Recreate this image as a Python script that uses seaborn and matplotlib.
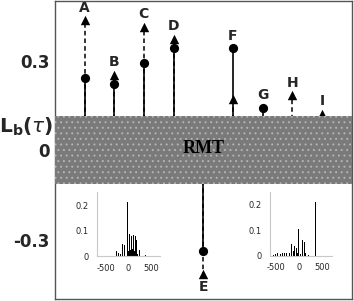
import numpy as np
import pandas as pd
import seaborn as sns
import matplotlib
matplotlib.use("Agg")
import matplotlib.pyplot as plt

sns.set_style("white")
plt.rcParams["font.family"] = ["DejaVu Sans"]
plt.rcParams["hatch.linewidth"] = 0.7

# ---- data ----
labels = ["A", "B", "C", "D", "E", "F", "G", "H", "I"]
circle_vals = [0.241, 0.221, 0.291, 0.341, -0.339, 0.341, 0.141, np.nan, np.nan]
triangle_vals = [0.435, 0.253, 0.413, 0.373, -0.417, 0.172, np.nan, 0.184, 0.121]
rmt_band = 0.113
yticks = [-0.3, 0, 0.3]
ytick_labels = ["-0.3", "0", "0.3"]

# inset histograms
left_x = [-410, -300, -266, -230, -170, -133, -95, -81, -55, -22, 5, 15, 30, 45, 67, 85, 104, 125,
          148, 178, 200, 237, 300, 370]
left_h = [0.008, 0.004, 0.022, 0.015, 0.009, 0.05, 0.01, 0.045, 0.015, 0.213, 0.02, 0.03, 0.089,
          0.025, 0.08, 0.03, 0.085, 0.02, 0.08, 0.063, 0.01, 0.025, 0.003, 0.004]
right_x = [-540, -500, -460, -430, -400, -350, -310, -280, -200, -165, -130, -93, -57, -30, -7, 30,
           71, 107, 143, 200, 350, 528]
right_h = [0.004, 0.006, 0.012, 0.031, 0.008, 0.012, 0.01, 0.012, 0.01, 0.047, 0.02, 0.037, 0.03,
           0.01, 0.104, 0.006, 0.06, 0.055, 0.01, 0.004, 0.21, 0.053]

pos = np.arange(1, len(labels) + 1)
df = pd.DataFrame({"label": labels, "x": pos, "circle": circle_vals, "triangle": triangle_vals})

fig = plt.figure(figsize=(3.54, 3.01), dpi=100)
ax = fig.add_axes([0.155, 0.006, 0.838, 0.991])

# stems: dashed to triangle, solid to circle
for _, r in df.iterrows():
    if not np.isnan(r["triangle"]):
        ax.plot([r["x"], r["x"]], [0, r["triangle"]], color="black", lw=1.1,
                linestyle=(0, (3, 2)), zorder=2)
    if not np.isnan(r["circle"]):
        ax.plot([r["x"], r["x"]], [0, r["circle"]], color="black", lw=1.2,
                linestyle="-", zorder=3)

sns.scatterplot(data=df, x="x", y="circle", marker="o", s=44, color="black",
                edgecolor="black", linewidth=0, ax=ax, zorder=4, legend=False)
sns.scatterplot(data=df, x="x", y="triangle", marker="^", s=46, color="black",
                edgecolor="black", linewidth=0, ax=ax, zorder=4, legend=False)

# RMT band
ax.axhspan(-rmt_band, rmt_band, facecolor="#7a7a7a", edgecolor="#b4b4b4", hatch="...",
           lw=0, zorder=5)
ax.text(5, 0.005, "RMT", ha="center", va="center", fontsize=13, fontweight="bold",
        family="Liberation Serif", color="black", zorder=6)

# letter labels
for _, r in df.iterrows():
    vals = [v for v in (r["circle"], r["triangle"]) if not np.isnan(v)]
    ext = max(vals, key=abs)
    off = 9 if ext > 0 else -9
    ax.annotate(r["label"], (r["x"], ext), xytext=(0, off), textcoords="offset points",
                ha="center", va="center", fontsize=10, fontweight="bold")

ax.set_xlim(0, 10)
ax.set_ylim(-0.5, 0.5)
ax.set_xticks([])
ax.set_yticks(yticks)
ax.set_yticklabels(ytick_labels, fontsize=12, fontweight="bold")
ax.tick_params(axis="y", direction="in", length=6, width=0.8, color="#555555", pad=4)
ax.set_xlabel("")
ax.set_ylabel("")
for s in ax.spines.values():
    s.set_color("#555555")
    s.set_linewidth(1.0)
fig.text(0.073, 0.578, r"$\mathbf{L_b}\mathbf{(}\tau\mathbf{)}$", ha="center", va="center",
         fontsize=14.5)

def inset(rect, xs, hs, xlim):
    a = fig.add_axes(rect)
    a.bar(xs, hs, width=20, color="black", lw=0)
    a.set_xlim(*xlim)
    a.set_ylim(0, 0.25)
    a.set_xticks([-500, -250, 0, 250, 500])
    a.set_xticklabels(["-500", "", "0", "", "500"])
    a.set_yticks([0, 0.05, 0.1, 0.15, 0.2])
    a.set_yticklabels(["0", "", "0.1", "", "0.2"])
    a.tick_params(axis="x", direction="out", length=3.5, width=0.6, color="#333333",
                  labelsize=6, pad=2)
    a.tick_params(axis="y", direction="in", length=3, width=0.6, color="#333333",
                  labelsize=6, pad=6)
    for s in ["top", "right"]:
        a.spines[s].set_visible(False)
    for s in ["left", "bottom"]:
        a.spines[s].set_color("#c8c8c8")
        a.spines[s].set_linewidth(0.8)
    a.patch.set_alpha(0)
    return a

inset([0.274, 0.148, 0.178, 0.213], left_x, left_h, (-700, 700))
inset([0.763, 0.150, 0.175, 0.213], right_x, right_h, (-620, 700))

fig.savefig("out.png", dpi=100)
